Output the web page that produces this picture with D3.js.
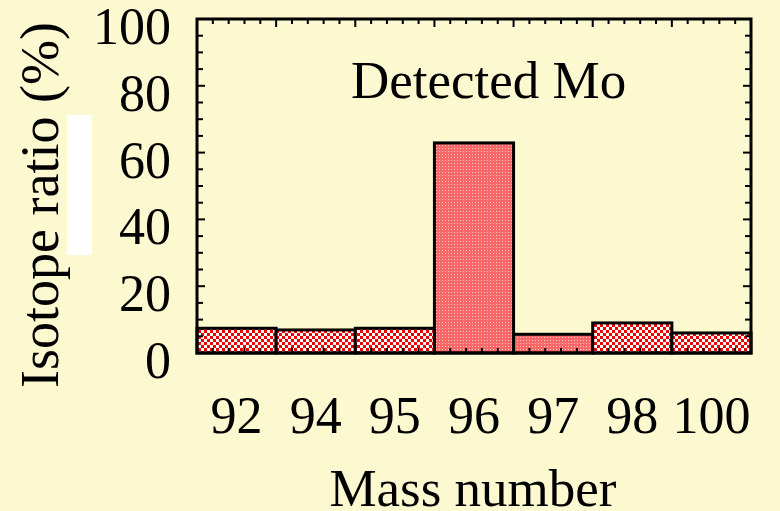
<!DOCTYPE html>
<html><head><meta charset="utf-8">
<script src="https://cdn.jsdelivr.net/npm/d3@7"></script>
<style>html,body{margin:0;padding:0;background:#fcf8d0;}svg{display:block;}</style>
</head><body>
<svg id="c" width="780" height="511"></svg>
<script>
const categories = ["92","94","95","96","97","98","100"];
const values = [7.4, 6.9, 7.4, 62.9, 5.6, 9.0, 6.0];
const fillKinds = ["check","check","check","dot","dot","check","check"];
const yTicks = [0,20,40,60,80,100];

const W=780,H=511;
const L=197,R=751,T=19,B=353;
const svg=d3.select("#c");
const font="'Liberation Serif','Times New Roman',serif";
svg.append("rect").attr("width",W).attr("height",H).attr("fill","#fcf8d0");

const defs=svg.append("defs");
const pc=defs.append("pattern").attr("id","check").attr("patternUnits","userSpaceOnUse").attr("width",6).attr("height",6);
pc.append("rect").attr("width",6).attr("height",6).attr("fill","#ffffff");
pc.append("rect").attr("width",3).attr("height",3).attr("fill","#f00000");
pc.append("rect").attr("x",3).attr("y",3).attr("width",3).attr("height",3).attr("fill","#f00000");
const pd=defs.append("pattern").attr("id","dot").attr("patternUnits","userSpaceOnUse").attr("width",3).attr("height",3);
pd.append("rect").attr("width",3).attr("height",3).attr("fill","#f86868");
pd.append("rect").attr("x",1).attr("y",1).attr("width",1).attr("height",1).attr("fill","#ffc4c4");

const x=d3.scaleBand().domain(categories).range([L,R]).padding(0);
const y=d3.scaleLinear().domain([0,100]).range([B,T]);

// bars
svg.append("g").selectAll("rect").data(categories).join("rect")
  .attr("x",d=>x(d)).attr("width",x.bandwidth())
  .attr("y",(d,i)=>y(values[i])).attr("height",(d,i)=>B-y(values[i]))
  .attr("fill",(d,i)=>"url(#"+fillKinds[i]+")")
  .attr("stroke","#000").attr("stroke-width",3);

// frame
svg.append("rect").attr("x",L).attr("y",T).attr("width",R-L).attr("height",B-T)
  .attr("fill","none").attr("stroke","#000").attr("stroke-width",3);

// ticks (inward)
const minorY=d3.range(0,101,5);
const gy=svg.append("g").attr("stroke","#000").attr("stroke-width",2);
minorY.forEach(v=>{
  const len = v%20===0?8:6;
  gy.append("line").attr("x1",L).attr("x2",L+len).attr("y1",y(v)).attr("y2",y(v));
  gy.append("line").attr("x1",R).attr("x2",R-len).attr("y1",y(v)).attr("y2",y(v));
});
const xl=d3.scaleLinear().domain([0,categories.length]).range([L,R]);
d3.range(0,categories.length*5+1).forEach(k=>{
  const v=k/5, len = k%5===0?8:5;
  gy.append("line").attr("x1",xl(v)).attr("x2",xl(v)).attr("y1",T).attr("y2",T+len);
  gy.append("line").attr("x1",xl(v)).attr("x2",xl(v)).attr("y1",B).attr("y2",B-len);
});

const FS=52;
// y tick labels
svg.append("g").selectAll("text").data(yTicks).join("text")
  .attr("x",171).attr("y",d=>y(d)+25).attr("text-anchor","end")
  .attr("font-family",font).attr("font-size",FS).attr("fill","#000").text(d=>d);

// x tick labels
svg.append("g").selectAll("text").data(categories).join("text")
  .attr("x",d=>x(d)+x.bandwidth()/2).attr("y",433).attr("text-anchor","middle")
  .attr("font-family",font).attr("font-size",FS).attr("fill","#000").text(d=>d);

// annotation
svg.append("text").attr("x",351).attr("y",98).attr("font-family",font).attr("font-size",53).attr("fill","#000").text("Detected Mo");

// axis titles
svg.append("text").attr("x",473).attr("y",506).attr("text-anchor","middle")
  .attr("font-family",font).attr("font-size",53).attr("fill","#000").text("Mass number");
svg.append("text").attr("transform","translate(58,205) rotate(-90)").attr("text-anchor","middle")
  .attr("font-family",font).attr("font-size",54).attr("fill","#000").text("Isotope ratio (%)");

// white patch
svg.append("rect").attr("x",67).attr("y",115).attr("width",25).attr("height",140).attr("fill","#ffffff");
</script>
</body></html>
